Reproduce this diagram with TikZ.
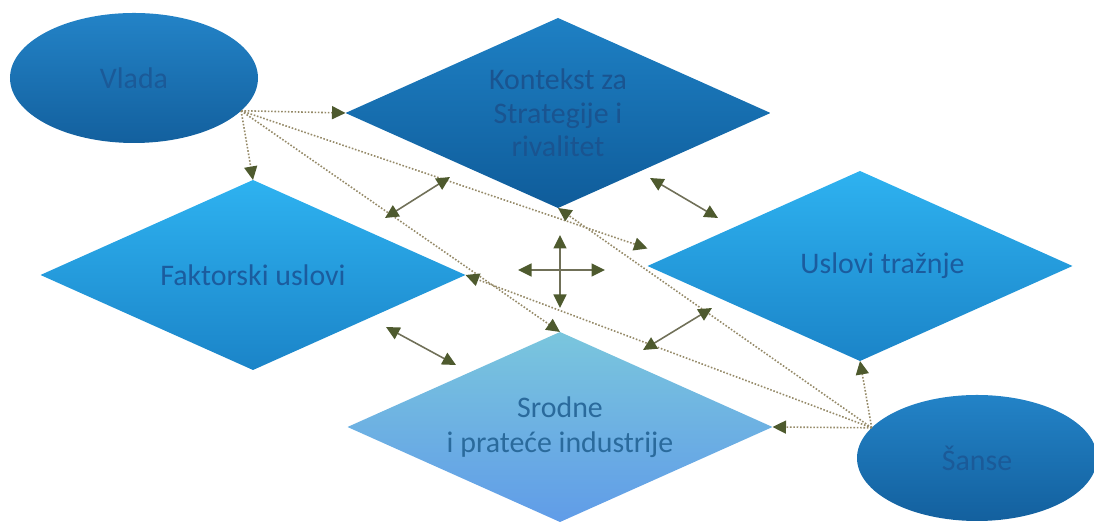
\documentclass[tikz,border=0pt]{standalone}
\usepackage{fontspec}
\setmainfont{Carlito}
\usetikzlibrary{shapes.geometric}
\usetikzlibrary{arrows.meta}

\definecolor{krugGore}{HTML}{2383C7}
\definecolor{krugDole}{HTML}{13609E}
\definecolor{krugTekst}{HTML}{1B5A98}
\definecolor{tamnoGore}{HTML}{1E80C4}
\definecolor{tamnoDole}{HTML}{0F5C9A}
\definecolor{tamnoTekst}{HTML}{1A5490}
\definecolor{svetloGore}{HTML}{2EB2F0}
\definecolor{svetloDole}{HTML}{1B84C8}
\definecolor{svetloTekst}{HTML}{1B5C9E}
\definecolor{srodGore}{HTML}{7AC6DD}
\definecolor{srodDole}{HTML}{609CE8}
\definecolor{srodTekst}{HTML}{2A6A9C}
\definecolor{strelica}{HTML}{4E5A2E}
\definecolor{linija}{HTML}{707058}
\definecolor{tacke}{HTML}{958A68}

\begin{document}
\begin{tikzpicture}[font=\fontsize{17}{20}\selectfont,
  blok/.style={diamond,shape aspect=2.24,minimum width=8.5cm,minimum height=3.8cm,inner sep=0pt,outer sep=0pt,align=center},
  krug/.style={ellipse,inner sep=0pt,outer sep=0pt,top color=krugGore,bottom color=krugDole,text=krugTekst},
  veza/.style={densely dotted,draw=tacke,line width=0.9pt,-{Triangle[length=0.27cm,width=0.26cm,color=strelica]}},
  dvo/.style={draw=linija,line width=0.9pt,{Triangle[length=0.27cm,width=0.26cm,color=strelica]}-{Triangle[length=0.27cm,width=0.26cm,color=strelica]}}]
 \useasboundingbox (0,0) rectangle (21.88,10.46);
 % sest cvorova
 \node[krug,minimum width=4.96cm,minimum height=2.6cm] (vlada) at (2.68,8.90) {Vlada};
 \node[blok,top color=tamnoGore,bottom color=tamnoDole,text=tamnoTekst,font=\fontsize{17}{19}\selectfont] (kontekst) at (11.16,8.20) {Kontekst za\\Strategije i\\rivalitet};
 \node[blok,top color=svetloGore,bottom color=svetloDole,text=svetloTekst] (faktor) at (5.06,4.96) {Faktorski uslovi};
 \node[blok,top color=svetloGore,bottom color=svetloDole,text=svetloTekst] (uslovi) at (17.20,5.14) {\hspace*{0.9cm}Uslovi tražnje};
 \node[blok,top color=srodGore,bottom color=srodDole,text=srodTekst] (srodne) at (11.20,1.92) {Srodne\\i prateće industrije};
 \node[krug,minimum width=4.8cm,minimum height=2.52cm] (sanse) at (19.54,1.30) {Šanse};
 \coordinate (v0) at (vlada.-17);
 \coordinate (s0) at (sanse.164);
 % isprekidane veze
 \draw[veza] (v0) -- (kontekst.west);
 \draw[veza] (v0) -- (faktor.north);
 \draw[veza] (v0) -- ([yshift=0.35cm]uslovi.west);
 \draw[veza] (v0) -- (srodne.north);
 \draw[veza] (s0) -- (uslovi.south);
 \draw[veza] (s0) -- (srodne.east);
 \draw[veza] (s0) -- (kontekst.south);
 \draw[veza] (s0) -- (faktor.east);
 % dvostrane strelice
 \coordinate (a1) at (7.70,6.10);  \coordinate (b1) at (9.00,6.92);
 \coordinate (a2) at (13.00,6.90); \coordinate (b2) at (14.36,6.10);
 \coordinate (a3) at (7.72,3.92);  \coordinate (b3) at (9.12,3.16);
 \coordinate (a4) at (12.86,3.46); \coordinate (b4) at (14.24,4.30);
 \draw[dvo] (a1) -- (b1);
 \draw[dvo] (a2) -- (b2);
 \draw[dvo] (a3) -- (b3);
 \draw[dvo] (a4) -- (b4);
 % krst u sredini
 \coordinate (gore) at (11.20,5.76); \coordinate (dole) at (11.20,4.30);
 \coordinate (levo) at (10.36,5.06); \coordinate (desno) at (12.10,5.06);
 \draw[dvo] (gore) -- (dole);
 \draw[dvo] (levo) -- (desno);
\end{tikzpicture}
\end{document}
